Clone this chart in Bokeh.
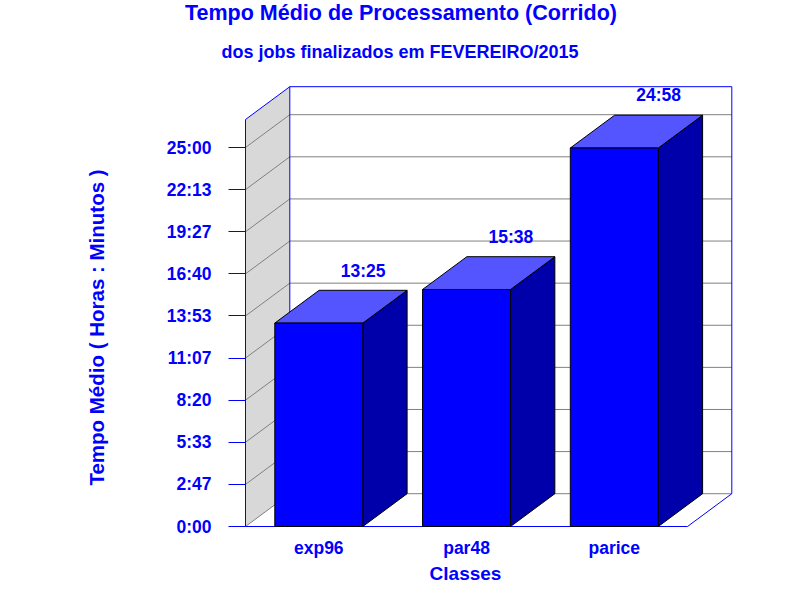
import math
from bokeh.plotting import figure
from bokeh.models import Range1d, FixedTicker, LinearAxis
from bokeh.core.properties import value
from bokeh.embed import file_html
from bokeh.resources import INLINE

# ---------------- data ----------------
categories = ["exp96", "par48", "parice"]
avg_minutes = [805, 938, 1498]          # 13:25, 15:38, 24:58
y_tick_labels = ["0:00", "2:47", "5:33", "8:20", "11:07",
                 "13:53", "16:40", "19:27", "22:13", "25:00"]
y_axis_max_hours = 25.0
title_text = "Tempo Médio de Processamento (Corrido)"
subtitle_text = "dos jobs finalizados em FEVEREIRO/2015"
x_label_text = "Classes"
y_label_text = "Tempo Médio ( Horas : Minutos )"


def hm(m):
    return f"{m // 60}:{m % 60:02d}"


values_h = [m / 60.0 for m in avg_minutes]
value_labels = [hm(m) for m in avg_minutes]
cat_x = list(range(len(categories)))
n_ticks = len(y_tick_labels)
y_ticks = [y_axis_max_hours * i / (n_ticks - 1) for i in range(n_ticks)]

# ---------------- layout (pixels) ----------------
W_FIG, H_FIG = 784, 584
PX_X = 147.75      # px per category step
PX_Y = 15.16       # px per hour
X0 = 318.3         # pixel x of first category
Y0 = 526.0         # pixel y of value 0


def sx(px):
    return (px - X0) / PX_X


def sy(py):
    return (Y0 - py) / PX_Y


DX = 44.3 / PX_X        # depth offset x
DY = 32.8 / PX_Y        # depth offset y (hours)
BAR_W = 88.0 / PX_X
FL, FR = sx(245), sx(687)
WALL_TOP = sy(119)
LABEL_GAP = 19.8 / PX_Y

BLUE = "#0000ff"
FONT = "Liberation Sans"

p = figure(width=W_FIG, height=H_FIG,
           x_range=Range1d(sx(0), sx(W_FIG)),
           y_range=Range1d(sy(H_FIG), sy(0)),
           x_axis_location=None, y_axis_location=None,
           output_backend="svg", toolbar_location=None, min_border=0,
           background_fill_color="white", border_fill_color="white")
p.outline_line_color = None
p.grid.visible = False

# ---- axes (drawn at the wall / floor front edges) ----
ya = LinearAxis(fixed_location=FL)
ya.ticker = FixedTicker(ticks=y_ticks)
ya.major_label_overrides = {t: l for t, l in zip(y_ticks, y_tick_labels)}
ya.axis_line_color = None
ya.major_tick_line_color = BLUE
ya.major_tick_out = 17
ya.major_tick_in = 0
ya.minor_tick_line_color = None
ya.major_label_standoff = 17
ya.major_label_text_font = FONT
ya.major_label_text_font_style = "bold"
ya.major_label_text_font_size = "17.5px"
ya.major_label_text_color = BLUE
p.add_layout(ya, "left")

xa = LinearAxis(fixed_location=0)
xa.ticker = FixedTicker(ticks=cat_x)
xa.major_label_overrides = {i: c for i, c in zip(cat_x, categories)}
xa.axis_line_color = None
xa.major_tick_line_color = None
xa.major_tick_out = 0
xa.major_tick_in = 0
xa.minor_tick_line_color = None
xa.major_label_standoff = 11
xa.major_label_text_font = FONT
xa.major_label_text_font_style = "bold"
xa.major_label_text_font_size = "17.5px"
xa.major_label_text_color = BLUE
p.add_layout(xa, "below")

# ---- walls ----
p.patch([FL, FL + DX, FL + DX, FL], [0, DY, WALL_TOP + DY, WALL_TOP],
        fill_color="#d8d8d8", line_color=None)

p.segment(x0=[FL + DX] * n_ticks, y0=[t + DY for t in y_ticks],
          x1=[FR + DX] * n_ticks, y1=[t + DY for t in y_ticks],
          line_color="#808080", line_width=1)
p.segment(x0=[FL] * n_ticks, y0=y_ticks,
          x1=[FL + DX] * n_ticks, y1=[t + DY for t in y_ticks],
          line_color="#808080", line_width=1)

p.multi_line(
    xs=[[FL, FL],
        [FL, FL + DX, FR + DX, FR + DX, FR, FL],
        [FL + DX, FL + DX]],
    ys=[[0, WALL_TOP],
        [WALL_TOP, WALL_TOP + DY, WALL_TOP + DY, DY, 0, 0],
        [DY, WALL_TOP + DY]],
    line_color=BLUE, line_width=1)

# ---- bars ----
side_xs, side_ys, top_xs, top_ys = [], [], [], []
for c, v in zip(cat_x, values_h):
    r, l = c + BAR_W / 2, c - BAR_W / 2
    side_xs.append([r, r + DX, r + DX, r])
    side_ys.append([0, DY, v + DY, v])
    top_xs.append([l, l + DX, r + DX, r])
    top_ys.append([v, v + DY, v + DY, v])

p.patches(side_xs, side_ys, fill_color="#0000aa", line_color="black", line_width=1)
p.patches(top_xs, top_ys, fill_color="#5555ff", line_color="black", line_width=1)
p.quad(left=[c - BAR_W / 2 for c in cat_x], right=[c + BAR_W / 2 for c in cat_x],
       bottom=[0] * len(cat_x), top=values_h,
       fill_color=BLUE, line_color="black", line_width=1)

txt = dict(text_baseline="middle", text_font=value(FONT),
           text_font_style="bold", text_color=BLUE)

p.text(x=[c + DX for c in cat_x], y=[v + DY + LABEL_GAP for v in values_h],
       text=value_labels, text_align="center", text_font_size="17.5px", **txt)

# ---- titles & axis titles ----
p.text(x=[sx(400.5)], y=[sy(12)], text=[title_text], text_align="center",
       text_font_size="21.5px", **txt)
p.text(x=[sx(399.5)], y=[sy(51.3)], text=[subtitle_text], text_align="center",
       text_font_size="18px", **txt)
p.text(x=[sx(465)], y=[sy(572.5)], text=[x_label_text], text_align="center",
       text_font_size="19px", **txt)
p.text(x=[sx(96)], y=[sy(327)], text=[y_label_text], angle=math.pi / 2,
       text_align="center", text_font_size="20.5px", **txt)

open("out.html", "w").write(file_html(p, INLINE))
